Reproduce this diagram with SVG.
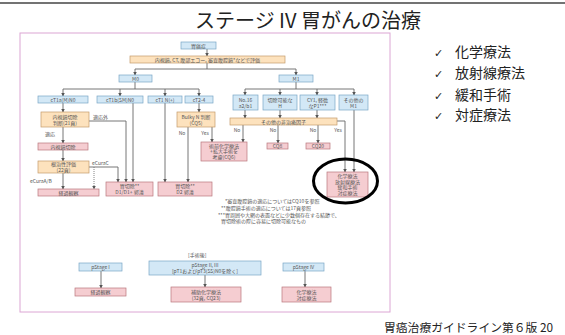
<svg xmlns="http://www.w3.org/2000/svg" width="565" height="335" viewBox="0 0 565 335">
<defs>
<marker id="ah" markerUnits="userSpaceOnUse" markerWidth="4" markerHeight="4" refX="3.5" refY="2" orient="auto">
<path d="M0,0 L4,2 L0,4 z" fill="#555"/>
</marker>
<style>
.t{font-family:"Noto Sans CJK JP","Noto Sans",sans-serif;font-size:5px;fill:#555;text-anchor:middle}
.l{font-family:"Noto Sans CJK JP","Noto Sans",sans-serif;font-size:5px;fill:#555}
.b{fill:#d3e8f6;stroke:#7aa6c6;stroke-width:0.7}
.o{fill:#fde2bd;stroke:#c49a6a;stroke-width:0.7}
.p{fill:#f5cdd1;stroke:#b9777d;stroke-width:0.7}
.c{fill:none;stroke:#666;stroke-width:0.9}
.a{fill:none;stroke:#666;stroke-width:0.9;marker-end:url(#ah)}
.d{fill:none;stroke:#777;stroke-width:0.9;stroke-dasharray:1,1;marker-end:url(#ah)}
.r{font-family:"Noto Sans CJK JP","Noto Sans",sans-serif;font-size:14px;fill:#222}
.k{font-family:"DejaVu Sans",sans-serif;font-size:11px;fill:#222}
</style>
</defs>
<rect width="565" height="335" fill="#fff"/>
<line x1="0" y1="3" x2="565" y2="3" stroke="#444" stroke-width="1.5"/>
<text x="308" y="28" font-family="'Noto Sans CJK JP','Noto Sans',sans-serif" font-size="20" fill="#222" text-anchor="middle">ステージ IV 胃がんの治療</text>
<rect x="20" y="33" width="370" height="279" fill="#fff" stroke="#dca6d4" stroke-width="1"/>

<g id="connectors">
<path class="a" d="M207,49 V56"/>
<path class="c" d="M207,63 V69 M135,69 H296"/>
<path class="a" d="M135,69 V75"/>
<path class="a" d="M296,69 V75"/>
<path class="c" d="M135,82 V89 M63,89 H199"/>
<path class="a" d="M63,89 V96"/><path class="a" d="M120,89 V96"/><path class="a" d="M165,89 V96"/><path class="a" d="M199,89 V96"/>
<path class="c" d="M296,82 V89 M245,89 H354"/>
<path class="a" d="M245,89 V95"/><path class="a" d="M280,89 V95"/><path class="a" d="M317,89 V95"/><path class="a" d="M354,89 V95"/>
<path class="a" d="M245,110 V118"/><path class="a" d="M280,110 V118"/><path class="a" d="M317,110 V118"/>
<path class="a" d="M354,110 V172"/>
<path class="a" d="M337,121 H345 V172"/>
<path class="a" d="M243,125 V142"/><path class="a" d="M278,125 V143"/><path class="a" d="M318,125 V143"/>
<path class="a" d="M63,103 V112"/>
<path class="a" d="M89,121 H126 V182"/>
<path class="a" d="M63,127 V143"/>
<path class="a" d="M63,150 V161"/>
<path class="a" d="M89,167 H118 V182"/>
<path class="d" d="M94,167 V189"/>
<path class="a" d="M63,173 V189"/>
<path class="a" d="M133,103 V182"/>
<path class="a" d="M165,103 V182"/>
<path class="a" d="M199,103 V112"/>
<path class="a" d="M188,127 V182"/>
<path class="a" d="M212,127 V142"/>
<path class="a" d="M101,271 V288"/>
<path class="a" d="M205,275 V287"/>
<path class="a" d="M305,271 V287"/>
</g>

<g id="labels">
<text class="l" x="93" y="119">適応外</text>
<text class="l" x="45" y="136">適応</text>
<text class="l" x="92" y="165">eCuraC</text>
<text class="l" x="30" y="183">eCuraA/B</text>
<text class="t" x="182" y="135">No</text>
<text class="t" x="205" y="135">Yes</text>
<text class="t" x="237" y="132">No</text>
<text class="t" x="273" y="132">No</text>
<text class="t" x="313" y="132">No</text>
<text class="t" x="338" y="132">Yes</text>
<text class="l" x="188" y="257">[手術後]</text>
</g>

<g id="n-top"><rect class="b" x="181" y="42" width="35" height="7"/><text class="t" x="198.5" y="47.5">胃癌症</text></g>
<g id="n-eval"><rect class="o" x="130" y="56" width="155" height="7"/><text class="t" x="207.5" y="61.5">内視鏡, CT, 腹部エコー, 審査腹腔鏡*などで評価</text></g>
<g id="n-m0"><rect class="b" x="119" y="75" width="33" height="7"/><text class="t" x="135.5" y="80.5">M0</text></g>
<g id="n-m1"><rect class="b" x="279" y="75" width="34" height="7"/><text class="t" x="296" y="80.5">M1</text></g>
<g id="n-ct1a"><rect class="b" x="38" y="96" width="50" height="7"/><text class="t" x="63" y="101.5">cT1a(M)N0</text></g>
<g id="n-ct1b"><rect class="b" x="97" y="96" width="46" height="7"/><text class="t" x="120" y="101.5">cT1b(SM)N0</text></g>
<g id="n-ct1n"><rect class="b" x="148" y="96" width="34" height="7"/><text class="t" x="165" y="101.5">cT1 N(+)</text></g>
<g id="n-ct24"><rect class="b" x="185" y="96" width="28" height="7"/><text class="t" x="199" y="101.5">cT2-4</text></g>
<g id="n-no16"><rect class="b" x="233" y="95" width="25" height="15"/><text class="t" x="245.5" y="101.5">No.16</text><text class="t" x="245.5" y="107.5">a2/b1</text></g>
<g id="n-h"><rect class="b" x="263" y="95" width="34" height="15"/><text class="t" x="280" y="101.5">切除可能な</text><text class="t" x="280" y="107.5">H</text></g>
<g id="n-cy1"><rect class="b" x="300" y="95" width="35" height="15"/><text class="t" x="317.5" y="101.5">CY1, 軽微</text><text class="t" x="317.5" y="107.5">なP1***</text></g>
<g id="n-otherm1"><rect class="b" x="339" y="95" width="29" height="15"/><text class="t" x="353.5" y="101.5">その他の</text><text class="t" x="353.5" y="107.5">M1</text></g>
<g id="n-noncur"><rect class="o" x="230" y="118" width="107" height="7"/><text class="t" x="283.5" y="123.5">その他の非治癒因子</text></g>
<g id="n-esdjudge"><rect class="o" x="41" y="112" width="48" height="15"/><text class="t" x="65" y="118.5">内視鏡切除</text><text class="t" x="65" y="124.5">判断(21頁)</text></g>
<g id="n-esd"><rect class="p" x="38" y="143" width="50" height="7"/><text class="t" x="63" y="148.5">内視鏡切除</text></g>
<g id="n-cure"><rect class="o" x="38" y="161" width="51" height="12"/><text class="t" x="63.5" y="166">根治性評価</text><text class="t" x="63.5" y="171.5">(22頁)</text></g>
<g id="n-obs1"><rect class="p" x="38" y="189" width="61" height="7"/><text class="t" x="68.5" y="194.5">経過観察</text></g>
<g id="n-d1"><rect class="p" x="106" y="182" width="47" height="14"/><text class="t" x="129.5" y="188">胃切除**</text><text class="t" x="129.5" y="194">D1/D1+ 郭清</text></g>
<g id="n-d2"><rect class="p" x="158" y="182" width="54" height="14"/><text class="t" x="185" y="188">胃切除**</text><text class="t" x="185" y="194">D2 郭清</text></g>
<g id="n-bulky"><rect class="o" x="177" y="112" width="38" height="15"/><text class="t" x="196" y="118.5">Bulky N 判断</text><text class="t" x="196" y="124.5">(CQ5)</text></g>
<g id="n-cq6"><rect class="p" x="201" y="142" width="46" height="19"/><text class="t" x="224" y="147.8">術前化学療法</text><text class="t" x="224" y="153.4">+拡大手術を</text><text class="t" x="224" y="159">考慮(CQ6)</text></g>
<g id="n-cq8"><rect class="p" x="267" y="143" width="21" height="6"/><text class="t" x="277.5" y="148">CQ8</text></g>
<g id="n-cq20"><rect class="p" x="306" y="143" width="24" height="6"/><text class="t" x="318" y="148">CQ20</text></g>
<g id="n-chemo"><rect class="p" x="327" y="172" width="41" height="25"/><text class="t" x="347.5" y="178">化学療法</text><text class="t" x="347.5" y="183.5">放射線療法</text><text class="t" x="347.5" y="189">緩和手術</text><text class="t" x="347.5" y="194.5">対症療法</text></g>
<ellipse cx="345.5" cy="181" rx="32" ry="22" fill="none" stroke="#000" stroke-width="3"/>

<g id="footnotes">
<text class="l" x="225" y="203">*審査腹腔鏡の適応についてはCQ10を参照</text>
<text class="l" x="221" y="210">**腹腔鏡手術の適応については17頁参照</text>
<text class="l" x="218" y="217">***胃周囲や大網の表面などに少数個存在する結節で、</text>
<text class="l" x="221" y="223">胃切除術の際に容易に切除可能なもの</text>
</g>

<g id="n-ps1"><rect class="b" x="79" y="263" width="43" height="8"/><text class="t" x="100.5" y="269">pStage I</text></g>
<g id="n-obs2"><rect class="p" x="75" y="288" width="51" height="8"/><text class="t" x="100.5" y="294">経過観察</text></g>
<g id="n-ps23"><rect class="b" x="149" y="261" width="112" height="14"/><text class="t" x="205" y="267">pStage II, III</text><text class="t" x="205" y="273">[pT1およびpT3(SS)N0を除く]</text></g>
<g id="n-adj"><rect class="p" x="171" y="287" width="70" height="15"/><text class="t" x="206" y="293.5">補助化学療法</text><text class="t" x="206" y="299.5">(32頁, CQ23)</text></g>
<g id="n-ps4"><rect class="b" x="283" y="263" width="41" height="8"/><text class="t" x="303.5" y="269">pStage IV</text></g>
<g id="n-chemo2"><rect class="p" x="282" y="287" width="49" height="15"/><text class="t" x="306.5" y="293.5">化学療法</text><text class="t" x="306.5" y="299.5">対症療法</text></g>

<g id="list">
<text class="k" x="434" y="57">✓</text><text class="r" x="455" y="57">化学療法</text>
<text class="k" x="434" y="78">✓</text><text class="r" x="455" y="78">放射線療法</text>
<text class="k" x="434" y="100">✓</text><text class="r" x="455" y="100">緩和手術</text>
<text class="k" x="434" y="120">✓</text><text class="r" x="455" y="120">対症療法</text>
</g>
<text x="384" y="332" font-family="'Noto Sans CJK JP','Noto Sans',sans-serif" font-size="11.8" fill="#222">胃癌治療ガイドライン第６版 20</text>
</svg>
